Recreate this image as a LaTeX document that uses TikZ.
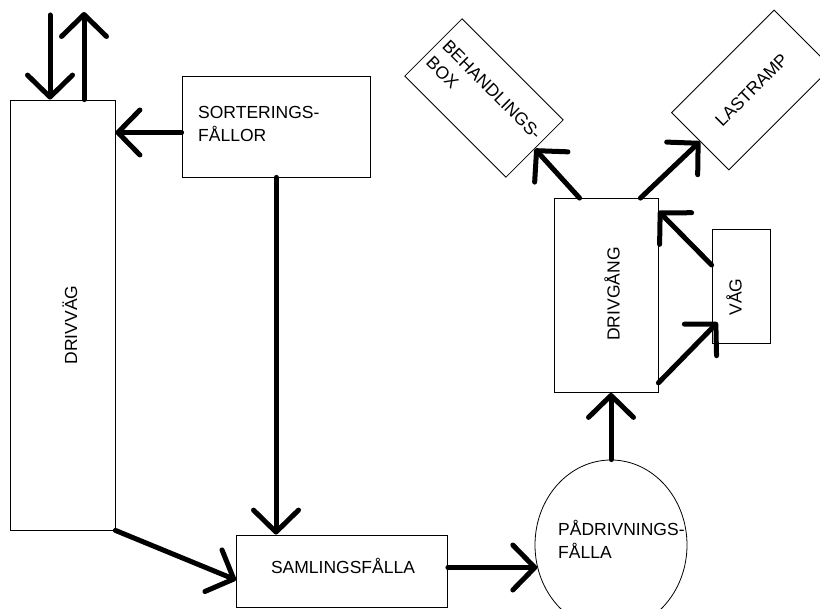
\documentclass[tikz,border=0pt]{standalone}
\usepackage{fontspec}
\setmainfont{Liberation Sans}
\usetikzlibrary{arrows.meta,shapes.geometric,calc}
\begin{document}
\begin{tikzpicture}[x=1pt,y=-1pt,
  rect/.style={draw, line width=0.8pt, inner sep=0pt},
  txt/.style={font=\fontsize{17.5}{23}\selectfont, inner sep=0pt},
  arr/.style={line width=5pt, line cap=round, -{Straight Barb[length=22pt,width=45pt,round]}}]
\useasboundingbox (0,0) rectangle (820,609);
\clip (0,0) rectangle (820,609);
\fill[white] (0,0) rectangle (820,609);
% boxes
\node[rect, minimum width=105pt, minimum height=430pt] (dv) at (62.5,315) {};
\node[rect, minimum width=188pt, minimum height=101pt] (sf) at (276,126.5) {};
\node[rect, minimum width=211pt, minimum height=72pt] (sa) at (342,571) {};
\node[rect, minimum width=104pt, minimum height=194pt] (dg) at (606,295.5) {};
\node[rect, minimum width=58pt, minimum height=114pt] (vag) at (741,286) {};
\node[rect, ellipse, minimum width=152pt, minimum height=170pt] (pf) at (611,545) {};
\node[rect, txt, rotate=-45, minimum width=143pt, minimum height=81pt, align=left] (bb) at (484,98) {BEHANDLINGS-\\BOX};
\node[rect, txt, rotate=45, minimum width=145pt, minimum height=81pt] (lr) at (751.5,90) {LASTRAMP};
% texts
\node[txt, rotate=90] (dvt) at (70,325) {DRIVVÄG};
\node[txt, align=left, anchor=west] (sft) at (198,124) {SORTERINGS-\\FÅLLOR};
\node[txt] (sat) at (343,566) {SAMLINGSFÅLLA};
\node[txt, align=left, anchor=west] (pft) at (558,539) {PÅDRIVNINGS-\\FÅLLA};
\node[txt, rotate=90] (dgt) at (612,294) {DRIVGÅNG};
\node[txt, rotate=90] (vagt) at (734,297) {VÅG};
% connectors
\coordinate (in1) at (50,15);
\coordinate (out1) at (84,12);
\draw[arr] (in1) -- (in1 |- dv.north);
\draw[arr] (out1 |- dv.north) -- (out1);
\coordinate (sfw) at ($(sf.west)+(0,6)$);
\draw[arr] (sfw) -- (sfw -| dv.east);
\draw[arr] (sf.south) -- (sf.south |- sa.north);
\draw[arr] (dv.south east) -- ($(sa.west)+(0,9)$);
\draw[arr] (sa.east |- pf.197) -- (pf.197);
\draw[arr] (pf.north) -- (pf.north |- dg.south);
\draw[arr] ($(dg.south east)+(0,-10)$) -- ($(vag.south west)+(6,-21)$);
\draw[arr] ($(vag.west)+(0,-21)$) -- ($(dg.north east)+(0,13)$);
\draw[arr] ($(dg.north west)+(26,0)$) -- (bb.east);
\draw[arr] ($(dg.north east)+(-18,0)$) -- (lr.west);
\end{tikzpicture}
\end{document}
